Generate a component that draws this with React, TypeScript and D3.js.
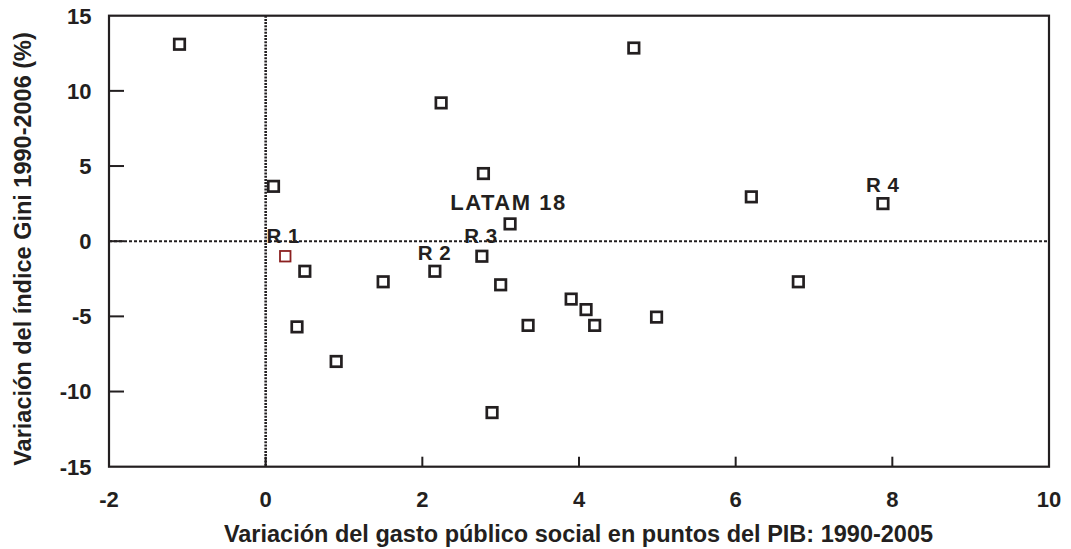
import React from "react";
import * as d3 from "d3";

const xValues = [-1.1, 0.1, 0.25, 0.5, 0.4, 0.9, 1.5, 2.24, 2.16, 2.78, 2.76, 3.12, 3.0, 2.89, 3.35, 3.9, 4.09, 4.2, 4.7, 4.99, 6.2, 6.8, 7.88];
const yValues = [13.1, 3.65, -1.0, -2.0, -5.7, -8.0, -2.7, 9.2, -2.0, 4.5, -1.0, 1.15, -2.9, -11.4, -5.6, -3.85, -4.55, -5.6, 12.85, -5.05, 2.95, -2.7, 2.5];
const highlighted = [false, false, true, false, false, false, false, false, false, false, false, false, false, false, false, false, false, false, false, false, false, false, false];

const labelTexts = ["R 1", "R 2", "R 3", "R 4", "LATAM 18"];
const labelX = [0.225, 2.156, 2.747, 7.877, 3.1];
const labelY = [-0.09, -1.26, -0.15, 3.28, 2.06];

const xTicks = [-2, 0, 2, 4, 6, 8, 10];
const yTicks = [-15, -10, -5, 0, 5, 10, 15];

const xTitle = "Variación del gasto público social en puntos del PIB: 1990-2005";
const yTitle = "Variación del índice Gini 1990-2006 (%)";

export default function App() {
  const W = 1071, H = 549;
  const left = 109, right = 1049, top = 15.7, bottom = 466.7;
  const x = d3.scaleLinear().domain([-2, 10]).range([left, right]);
  const y = d3.scaleLinear().domain([-15, 15]).range([bottom, top]);
  const font = "Arial, 'Liberation Sans', Helvetica, sans-serif";
  const ink = "#231f20";
  const s = 10.5;
  const bold = { fontWeight: 700 } as React.CSSProperties;

  return (
    <svg width={W} height={H} style={{ position: "absolute", left: 0, top: 0, background: "#fff", fontFamily: font }}>
      {/* zero lines */}
      <line x1={x(0)} x2={x(0)} y1={top} y2={bottom} stroke={ink} strokeWidth={2.6} strokeDasharray="2,1.2" />
      <line x1={left} x2={right} y1={y(0)} y2={y(0)} stroke={ink} strokeWidth={2} strokeDasharray="3,2" />
      {/* frame */}
      <rect x={left} y={top} width={right - left} height={bottom - top} fill="none" stroke={ink} strokeWidth={2.2} />
      {/* y ticks */}
      {yTicks.map((t) => (
        <g key={"y" + t}>
          {t > -15 && t < 15 && <line x1={left} x2={left + 15} y1={y(t)} y2={y(t)} stroke={ink} strokeWidth={2} />}
          <text x={91.5} y={y(t)} dy="0.36em" textAnchor="end" fontSize={22} style={bold} fill={ink}>{t}</text>
        </g>
      ))}
      {/* x ticks */}
      {xTicks.map((t) => (
        <g key={"x" + t}>
          {t > -2 && t < 10 && <line x1={x(t)} x2={x(t)} y1={bottom} y2={bottom - 10} stroke={ink} strokeWidth={2} />}
          <text x={x(t)} y={507} textAnchor="middle" fontSize={22} style={bold} fill={ink}>{t}</text>
        </g>
      ))}
      {/* titles */}
      <text x={578.5} y={542} textAnchor="middle" fontSize={23.5} style={bold} fill={ink}>{xTitle}</text>
      <text transform={`translate(31, 249) rotate(-90)`} textAnchor="middle" fontSize={23.5} style={bold} fill={ink}>{yTitle}</text>
      {/* points */}
      {xValues.map((v, i) => (
        <rect key={"p" + i} x={x(v) - s / 2} y={y(yValues[i]) - s / 2} width={s} height={s} fill="#fff"
          stroke={highlighted[i] ? "#8b2020" : ink} strokeWidth={highlighted[i] ? 1.8 : 2.7} />
      ))}
      {/* labels */}
      {labelTexts.map((t, i) => (
        <text key={"l" + i} x={x(labelX[i])} y={y(labelY[i])} textAnchor="middle"
          fontSize={i === 4 ? 22 : 20.5} style={bold} fill={ink} letterSpacing={i === 4 ? 1.5 : 0.5}>{t}</text>
      ))}
    </svg>
  );
}
